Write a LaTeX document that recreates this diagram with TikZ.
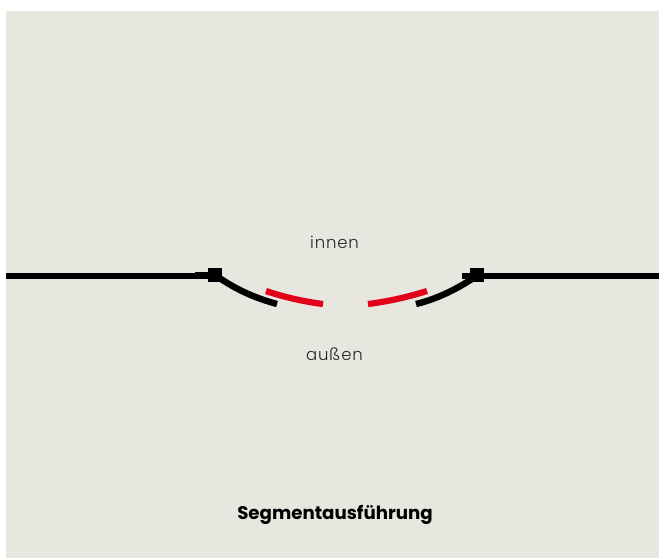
\documentclass[tikz,border=0pt]{standalone}
\usepackage{fontspec}
\setmainfont{Poppins}
\newfontfamily\lightfont[LetterSpace=5]{Poppins Light}
\usetikzlibrary{positioning}
\definecolor{wallgrey}{RGB}{231,230,223}
\definecolor{segred}{RGB}{226,0,26}

\begin{document}
\begin{tikzpicture}[
				x=1pt, y=-1pt,
				wall/.style={line width=6.4pt, black},
				stub/.style={line width=7pt, black},
				seg/.style={line width=6.2pt, segred},
				hinge/.style={rectangle, fill=black, minimum size=14pt, inner sep=0pt},
				lbl/.style={font=\lightfont\fontsize{16.5}{18}\selectfont, text=black!85, inner sep=0pt}
				]
				\useasboundingbox (0,0) rectangle (659,558);
				\fill[wallgrey] (6,11) rectangle (659,558);
				
				\node[hinge] (hingeL) at (214.7,275) {};
				\node[hinge] (hingeR) at (477,275) {};
				
				\coordinate (wallL) at (6,276);
				\coordinate (wallR) at (659,276);
				\coordinate (stubL) at (195,275.5);
				\coordinate (stubR) at (462,276);
				\coordinate (armL) at (277,304);
				\coordinate (armR) at (416,304);
				\coordinate (pivotL) at (218,277);
				\coordinate (pivotR) at (475,277);
				
				\draw[wall] (wallL) -- (hingeL.west |- wallL);
				\draw[wall] (hingeR.east |- wallR) -- (wallR);
				\draw[stub] (stubL) -- (hingeL.west |- stubL);
				\draw[wall] (stubR) -- (hingeR.west |- stubR);
				
				\draw[wall] (pivotL) .. controls (237,290) and (255,298) .. (armL);
				\draw[wall] (armR) .. controls (437,299) and (457,289) .. (pivotR);
				
				\draw[seg] (266,291) .. controls (284,297) and (303,301.5) .. (323,304);
				\draw[seg] (368,304) .. controls (388,301.5) and (408,297) .. (427,291);
				
				\node[lbl] (innen) at (334.5,242) {innen};
				\node[lbl] (aussen) at (334.5,354) {außen};
				\node[font=\bfseries\fontsize{18.2}{20}\selectfont, inner sep=0pt] (title) at (335,514.5) {Segmentausführung};
			\end{tikzpicture}
\end{document}
